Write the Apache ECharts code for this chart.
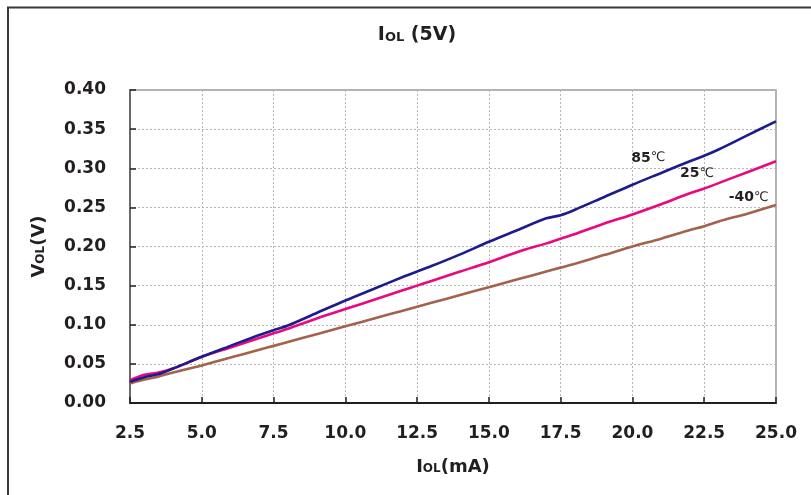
<!DOCTYPE html>
<html><head><meta charset="utf-8">
<script src="https://cdn.jsdelivr.net/npm/echarts@6/dist/echarts.min.js"></script>
<style>html,body{margin:0;padding:0;background:#fff}#c{width:811px;height:495px}</style>
</head><body><div id="c"></div>
<script>
const xTicks = [2.5, 5.0, 7.5, 10.0, 12.5, 15.0, 17.5, 20.0, 22.5, 25.0];
const currents = [2.5, 3.0, 3.5, 4.0, 5.0, 6.0, 7.0, 7.5, 8.0, 9.0, 10.0, 11.0, 12.0, 12.5, 13.0, 14.0, 15.0, 16.0, 17.0, 17.5, 18.0, 19.0, 20.0, 21.0, 22.0, 22.5, 23.0, 24.0, 25.0];
const t85 = [0.027, 0.033, 0.037, 0.044, 0.059, 0.073, 0.087, 0.093, 0.099, 0.115, 0.131, 0.146, 0.161, 0.168, 0.175, 0.190, 0.206, 0.221, 0.236, 0.240, 0.247, 0.263, 0.279, 0.294, 0.309, 0.316, 0.324, 0.342, 0.360];
const t25 = [0.029, 0.036, 0.039, 0.044, 0.059, 0.071, 0.083, 0.089, 0.095, 0.108, 0.120, 0.132, 0.144, 0.150, 0.156, 0.168, 0.180, 0.193, 0.204, 0.210, 0.216, 0.229, 0.241, 0.254, 0.268, 0.274, 0.281, 0.295, 0.309];
const tm40 = [0.025, 0.030, 0.034, 0.039, 0.048, 0.058, 0.068, 0.073, 0.078, 0.088, 0.098, 0.108, 0.118, 0.123, 0.128, 0.138, 0.148, 0.158, 0.168, 0.173, 0.178, 0.189, 0.200, 0.210, 0.221, 0.226, 0.232, 0.242, 0.253];
const seriesNames = ['85', '25', '-40'];
const labelPos = [[20.55, 0.313], [22.25, 0.293], [24.05, 0.263]];
const colors = ['#1c1c8c', '#e8087f', '#a4624a'];
const FONT = 'DejaVu Sans';

const chart = echarts.init(document.getElementById('c'), null, {renderer: 'canvas'});
const sets = [t85, t25, tm40];
const series = sets.map((vals, i) => ({
  name: seriesNames[i] + '℃',
  type: 'line',
  data: currents.map((x, k) => [x, vals[k]]),
  showSymbol: false,
  smooth: 0.3,
  lineStyle: {color: colors[i], width: 2.6},
  z: 3 + (2 - i),
  markPoint: {
    symbol: 'circle', symbolSize: 0,
    data: [{coord: labelPos[i], value: seriesNames[i]}],
    label: {
      show: true,
      formatter: '{a|' + seriesNames[i] + '}{b|℃}',
      rich: {
        a: {fontFamily: FONT, fontWeight: 'bold', fontSize: 14, color: '#231f20'},
        b: {fontFamily: FONT, fontWeight: 'normal', fontSize: 13, color: '#231f20'}
      }
    }
  }
}));

const richName = {
  a: {fontFamily: FONT, fontWeight: 'bold', fontSize: 18, color: '#231f20'},
  b: {fontFamily: FONT, fontWeight: 'bold', fontSize: 12, color: '#231f20', padding: [4, 0, 0, 0]}
};

chart.setOption({
  animation: false,
  backgroundColor: '#fff',
  title: {
    text: '{a|I}{b|OL}{a| (5V)}',
    left: 412, top: 21, textAlign: 'center',
    textStyle: {
      rich: {
        a: {fontFamily: FONT, fontWeight: 'bold', fontSize: 19, color: '#231f20'},
        b: {fontFamily: FONT, fontWeight: 'bold', fontSize: 13, color: '#231f20', padding: [4, 0, 0, 0]}
      }
    }
  },
  grid: {left: 130, top: 90, width: 646, height: 313, show: true, borderColor: '#9a9a9a', borderWidth: 1.5, backgroundColor: '#fff'},
  xAxis: {
    type: 'value', min: 2.5, max: 25, interval: 2.5,
    name: '{a|I}{b|OL}{a|(mA)}', nameLocation: 'middle', nameGap: 55,
    nameTextStyle: {rich: richName},
    axisLine: {lineStyle: {color: '#231f20', width: 2}},
    axisTick: {inside: true, length: 6, lineStyle: {color: '#231f20', width: 1.5}},
    axisLabel: {fontFamily: FONT, fontWeight: 'bold', fontSize: 17, color: '#231f20', margin: 22,
      formatter: v => v.toFixed(1)},
    splitLine: {show: true, lineStyle: {color: '#b5b5b5', type: [2, 2], width: 1}}
  },
  yAxis: {
    type: 'value', min: 0, max: 0.4, interval: 0.05,
    name: '{a|V}{b|OL}{a|(V)}', nameLocation: 'middle', nameGap: 82, nameRotate: 90,
    nameTextStyle: {rich: richName},
    axisLine: {lineStyle: {color: '#6a6a6a', width: 2}},
    axisTick: {inside: true, length: 6, lineStyle: {color: '#231f20', width: 1.5}},
    axisLabel: {fontFamily: FONT, fontWeight: 'bold', fontSize: 17, color: '#231f20', margin: 24,
      formatter: v => v.toFixed(2)},
    splitLine: {show: true, lineStyle: {color: '#b5b5b5', type: [2, 2], width: 1}}
  },
  graphic: [{
    type: 'polyline', silent: true,
    shape: {points: [[8, 500], [8, 7.5], [820, 7.5]]},
    style: {stroke: '#3a3a3a', lineWidth: 2, fill: null}
  }],
  series: series
});
</script></body></html>
